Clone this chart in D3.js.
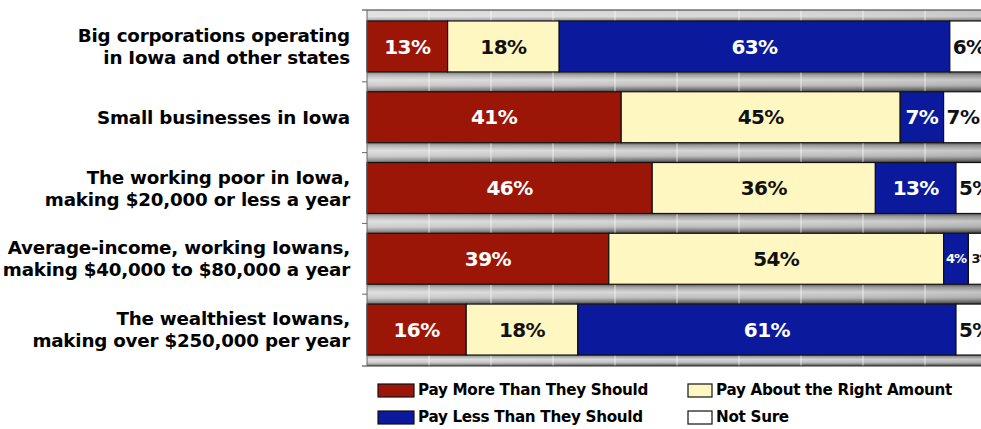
<!DOCTYPE html>
<html><head><meta charset="utf-8">
<script src="https://cdn.jsdelivr.net/npm/d3@7"></script>
<style>
html,body{margin:0;padding:0;background:#fff;overflow:hidden}
svg{display:block}
</style></head>
<body>
<svg id="chart" width="981" height="429"></svg>
<script>
const categories = [
  ["Big corporations operating", "in Iowa and other states"],
  ["Small businesses in Iowa"],
  ["The working poor in Iowa,", "making $20,000 or less a year"],
  ["Average-income, working Iowans,", "making $40,000 to $80,000 a year"],
  ["The wealthiest Iowans,", "making over $250,000 per year"]
];
const seriesNames = ["Pay More Than They Should", "Pay About the Right Amount", "Pay Less Than They Should", "Not Sure"];
const payMore  = [13, 41, 46, 39, 16];
const payRight = [18, 45, 36, 54, 18];
const payLess  = [63, 7, 13, 4, 61];
const notSure  = [6, 7, 5, 3, 5];
const xTicks = [0,10,20,30,40,50,60,70,80,90,100];

(function () {
const FONT = "'DejaVu Sans', Verdana, sans-serif";
const colors = ["#9c1608", "#fff7c2", "#0b1a9c", "#ffffff"];
const textColors = ["#ffffff", "#111111", "#ffffff", "#111111"];
const series = [payMore, payRight, payLess, notSure];

const svg = d3.select("#chart");
const pLeft = 367, pRight = 987, pTop = 10, pBottom = 366;
const x = d3.scaleLinear().domain([0, 100]).range([pLeft, pRight]);
const y = d3.scaleBand().domain(d3.range(categories.length)).range([pTop, pBottom])
  .paddingInner(0.28).paddingOuter(0.155);

const defs = svg.append("defs");
const gg = defs.append("linearGradient").attr("id", "gap").attr("x1", 0).attr("y1", 0).attr("x2", 0).attr("y2", 1);
[[0, "#5a5a5a"], [0.15, "#a0a0a0"], [0.4, "#d6d6d6"], [0.68, "#bdbdbd"], [0.9, "#6e6e6e"], [1, "#3a3a3a"]]
  .forEach(([o, c]) => gg.append("stop").attr("offset", o).attr("stop-color", c));
const hg = defs.append("linearGradient").attr("id", "hshade").attr("x1", 0).attr("y1", 0).attr("x2", 1).attr("y2", 0);
[[0, "#ffffff", 0.25], [0.5, "#ffffff", 0], [1, "#000000", 0.08]]
  .forEach(([o, c, a]) => hg.append("stop").attr("offset", o).attr("stop-color", c).attr("stop-opacity", a));
const tg = defs.append("linearGradient").attr("id", "topg").attr("x1", 0).attr("y1", 0).attr("x2", 0).attr("y2", 1);
[[0, "#d4d4d4"], [0.6, "#dadada"], [1, "#808080"]]
  .forEach(([o, c]) => tg.append("stop").attr("offset", o).attr("stop-color", c));

svg.append("rect").attr("x", pLeft).attr("y", pTop).attr("width", pRight - pLeft).attr("height", pBottom - pTop).attr("fill", "#cfcfcf");
const bw = y.bandwidth();
const gaps = [];
gaps.push([pTop, y(0)]);
for (let i = 0; i < categories.length - 1; i++) gaps.push([y(i) + bw, y(i + 1)]);
gaps.push([y(categories.length - 1) + bw, pBottom]);
svg.selectAll("rect.gap").data(gaps).join("rect").attr("class", "gap")
  .attr("x", pLeft).attr("y", d => d[0]).attr("width", pRight - pLeft).attr("height", d => d[1] - d[0])
  .attr("fill", (d, i) => i === 0 ? "url(#topg)" : "url(#gap)");
svg.append("rect").attr("x", pLeft).attr("y", pTop).attr("width", pRight - pLeft).attr("height", pBottom - pTop).attr("fill", "url(#hshade)");
svg.selectAll("line.grid").data(xTicks.slice(1, -1)).join("line").attr("class", "grid")
  .attr("x1", d => x(d)).attr("x2", d => x(d)).attr("y1", pTop).attr("y2", pBottom)
  .attr("stroke", "#ffffff").attr("stroke-opacity", 0.45).attr("stroke-width", 1.5);

const stacked = categories.map((c, i) => {
  let acc = 0;
  return series.map((s, k) => { const x0 = acc; acc += s[i]; return {i, k, x0, x1: acc, v: s[i]}; });
}).flat();
svg.selectAll("rect.bar").data(stacked).join("rect").attr("class", "bar")
  .attr("x", d => x(d.x0)).attr("y", d => y(d.i)).attr("width", d => x(d.x1) - x(d.x0)).attr("height", bw)
  .attr("fill", d => colors[d.k]).attr("stroke", "#111").attr("stroke-width", 1.2);

svg.selectAll("text.val").data(stacked).join("text").attr("class", "val")
  .attr("x", d => d.k === 3 ? x(d.x0) + 3 : (x(d.x0) + x(d.x1)) / 2)
  .attr("y", d => y(d.i) + bw / 2)
  .attr("dy", "0.36em").attr("text-anchor", d => d.k === 3 ? "start" : "middle")
  .attr("font-family", FONT).attr("font-weight", "bold")
  .attr("font-size", d => d.v <= 4 ? 13 : 20).attr("letter-spacing", d => d.v <= 4 ? "-1px" : "-0.6px")
  .attr("fill", d => textColors[d.k])
  .text(d => d.v + "%");

svg.append("line").attr("x1", 362).attr("x2", 981).attr("y1", pTop).attr("y2", pTop).attr("stroke", "#333").attr("stroke-width", 1.2);
svg.append("line").attr("x1", 362).attr("x2", 981).attr("y1", pBottom).attr("y2", pBottom).attr("stroke", "#333").attr("stroke-width", 1.2);
svg.append("line").attr("x1", pLeft).attr("x2", pLeft).attr("y1", pTop).attr("y2", pBottom).attr("stroke", "#666").attr("stroke-width", 1);
const bounds = d3.range(1, categories.length).map(i => y(i) - y.step() * y.paddingInner() / 2);
svg.selectAll("line.tick").data(bounds).join("line").attr("class", "tick")
  .attr("x1", 362).attr("x2", pLeft).attr("y1", d => d).attr("y2", d => d).attr("stroke", "#666");

const lab = svg.selectAll("g.lab").data(categories).join("g").attr("class", "lab");
lab.each(function (lines, i) {
  const cy = y(i) + bw / 2;
  const n = lines.length;
  d3.select(this).selectAll("text").data(lines).join("text")
    .attr("x", 350).attr("y", (d, j) => cy + (j - (n - 1) / 2) * 22)
    .attr("dy", "0.36em").attr("text-anchor", "end")
    .attr("font-family", FONT).attr("font-weight", "bold")
    .attr("font-size", 18.3).attr("letter-spacing", "-0.2px").attr("fill", "#000")
    .text(d => d);
});

const legPos = [[378, 390], [688, 390], [378, 417], [688, 417]];
const leg = svg.selectAll("g.leg").data(seriesNames).join("g").attr("class", "leg")
  .attr("transform", (d, k) => `translate(${legPos[k][0]},${legPos[k][1]})`);
leg.append("rect").attr("x", 0).attr("y", -6).attr("width", (d, k) => k % 2 ? 24 : 36).attr("height", 13)
  .attr("fill", (d, k) => colors[k]).attr("stroke", "#111").attr("stroke-width", 1.2);
leg.append("text").attr("x", (d, k) => k % 2 ? 28 : 40).attr("y", 0).attr("dy", "0.36em")
  .attr("font-family", FONT).attr("font-weight", "bold")
  .attr("font-size", 15.2).attr("letter-spacing", "-0.3px").attr("fill", "#000")
  .text(d => d);
})();
</script>
</body></html>
